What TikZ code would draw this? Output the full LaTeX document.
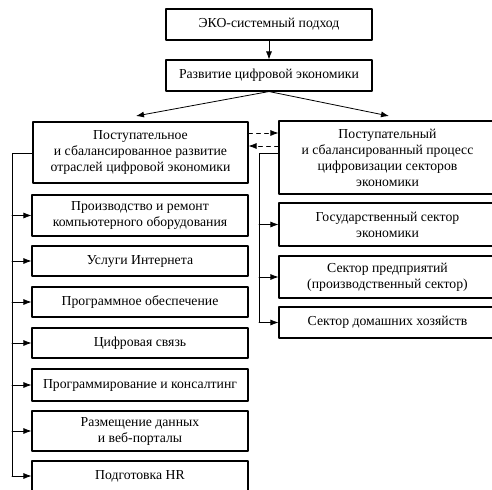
\documentclass[tikz,border=0pt]{standalone}
\usepackage{fontspec}
\setmainfont{Liberation Serif}
\usetikzlibrary{calc}
\usetikzlibrary{arrows.meta}

\begin{document}
\begin{tikzpicture}[line cap=round,line join=round,
  x=0.75pt,y=-0.75pt,   % one unit = one pixel of the scheme, y down
  box/.style={draw,line width=0.8pt,align=center,inner sep=1pt,
    font=\fontsize{10.3}{12}\selectfont},
  size/.style 2 args={minimum width=#1*0.75pt,minimum height=#2*0.75pt},
  link/.style={line width=0.6pt},
  tip/.style={-{Latex[length=6pt,width=4.5pt]}}
  ]
  \def\wl{216}   % left column width
  \def\wr{217}   % right column width
  \def\xl{140}   % left column center
  \def\xr{387.5} % right column center
  \useasboundingbox (0,0) rectangle (492,489);
  % TOP
  \node[box,size={206}{31}] (eko)  at (269,24.5) {ЭКО-системный подход};
  \node[box,size={206}{31}] (razv) at (269,75.5) {Развитие цифровой экономики};
  % MAIN BRANCHES
  \node[box,size={215}{61}] (otr) at (140.5,152.5)
    {Поступательное\\и сбалансированное развитие\\отраслей цифровой экономики};
  \node[box,size={\wr}{73}] (sek) at (\xr,157.5)
    {Поступательный\\и сбалансированный процесс\\цифровизации секторов\\экономики};
  % left column
  \node[box,size={\wl}{41}] (L1) at (\xl,215.5) {Производство и ремонт\\компьютерного оборудования};
  \node[box,size={\wl}{30}] (L2) at (\xl,261)   {Услуги Интернета};
  \node[box,size={\wl}{30}] (L3) at (\xl,302)   {Программное обеспечение};
  \node[box,size={\wl}{30}] (L4) at (\xl,343)   {Цифровая связь};
  \node[box,size={\wl}{32}] (L5) at (\xl,385)   {Программирование и консалтинг};
  \node[box,size={\wl}{40}] (L6) at (\xl,431)   {Размещение данных\\и веб-порталы};
  \node[box,size={\wl}{30}] (L7) at (\xl,476)   {Подготовка HR};
  % right column
  \node[box,size={\wr}{43}] (R1) at (\xr,224.5) {Государственный сектор\\экономики};
  \node[box,size={\wr}{42}] (R2) at (\xr,277)   {Сектор предприятий\\(производственный сектор)};
  \node[box,size={\wr}{31}] (R3) at (\xr,322.5) {Сектор домашних хозяйств};
  % ARROWS
  \coordinate (al) at (136,116);
  \coordinate (ar) at (389,116);
  \draw[link,tip] (eko) -- (razv);
  \draw[link,tip] (razv.south) -- (al);
  \draw[link,tip] (razv.south) -- (ar);
  % feedback between branches
  \coordinate (d1) at (0,133);
  \coordinate (d2) at (0,146);
  \draw[link,dashed,tip] (otr.east |- d1) -- (sek.west |- d1);
  \draw[link,dashed,tip] (sek.west |- d2) -- (otr.east |- d2);
  % trunks
  \coordinate (tl) at (12,153);
  \coordinate (tr) at (259,153);
  \draw[link] (otr.west |- tl) -- (tl) -- (tl |- L7);
  \draw[link] (sek.west |- tr) -- (tr) -- (tr |- R3);
  \foreach \n in {L1,L2,L3,L4,L5,L6,L7}
    \draw[link,tip] (tl |- \n) -- (\n);
  \foreach \n in {R1,R2,R3}
    \draw[link,tip] (tr |- \n) -- (\n);
\end{tikzpicture}
\end{document}
